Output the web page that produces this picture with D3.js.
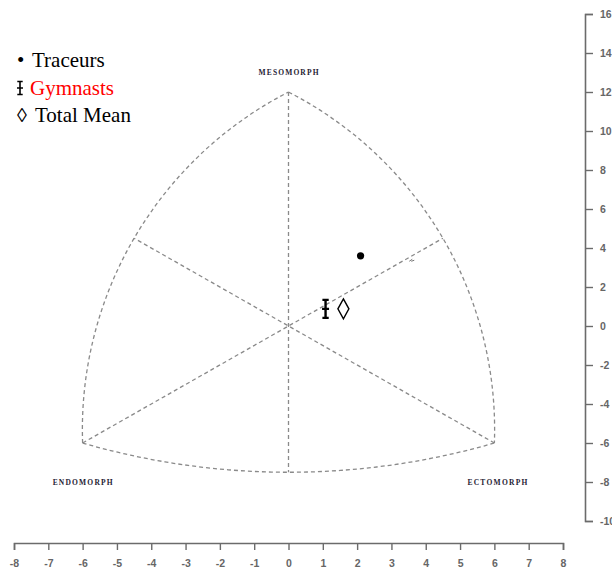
<!DOCTYPE html>
<html><head><meta charset="utf-8">
<script src="https://cdn.jsdelivr.net/npm/d3@7"></script>
<style>html,body{margin:0;padding:0;background:#fff;}svg{display:block;}</style>
</head><body>
<svg id="c" width="612" height="572"></svg>
<script>
// ---- data ----
const xTickValues = [-8,-7,-6,-5,-4,-3,-2,-1,0,1,2,3,4,5,6,7,8];
const yTickValues = [16,14,12,10,8,6,4,2,0,-2,-4,-6,-8,-10];
const vertexNames = ["MESOMORPH","ENDOMORPH","ECTOMORPH"];
const vertexX = [0,-6,6];
const vertexY = [12,-6,-6];
// arcs: pass-through points
const arcMidX = [-4.5, 4.5, 0];
const arcMidY = [4.5, 4.5, -7.5];
const axesLines = [[[0,12],[0,-7.5]], [[-6,-6],[4.5,4.5]], [[6,-6],[-4.5,4.5]]];
const groupNames = ["Traceurs","Gymnasts","Total Mean"];
const groupX = [2.1, 1.08, 1.6];
const groupY = [3.6, 0.88, 0.88];

// ---- scales ----
const x = d3.scaleLinear().domain([-8,8]).range([14,563]);
const y = d3.scaleLinear().domain([-10,16]).range([521,14]);
const svg = d3.select("#c");

// ---- axes ----
const axisColor = "#6b6b6b";
const fmt = d => String(d);
const gx = svg.append("g").attr("transform","translate(0,543)")
  .call(d3.axisBottom(x).tickValues(xTickValues).tickSize(7).tickPadding(13).tickFormat(fmt));
const gy = svg.append("g").attr("transform","translate(585,0)")
  .call(d3.axisRight(y).tickValues(yTickValues).tickSize(8).tickPadding(7).tickFormat(fmt));
[gx,gy].forEach(g=>{
  g.select(".domain").attr("stroke",axisColor).attr("stroke-width",1.6);
  g.selectAll(".tick line").attr("stroke",axisColor).attr("stroke-width",1.4);
  g.selectAll(".tick text").attr("fill","#666").attr("font-family","Liberation Sans, Arial, sans-serif")
   .attr("font-size",10.5).attr("font-weight","bold");
});
gx.selectAll(".tick text").attr("dy","0.35em");

// ---- somatochart outline ----
const dashStyle = g => g.attr("fill","none").attr("stroke","#8a8a8a").attr("stroke-width",1.3).attr("stroke-dasharray","4,3");
function circle3(p1,p2,p3){
  const [ax,ay]=p1,[bx,by]=p2,[cx,cy]=p3;
  const d=2*(ax*(by-cy)+bx*(cy-ay)+cx*(ay-by));
  const ux=((ax*ax+ay*ay)*(by-cy)+(bx*bx+by*by)*(cy-ay)+(cx*cx+cy*cy)*(ay-by))/d;
  const uy=((ax*ax+ay*ay)*(cx-bx)+(bx*bx+by*by)*(ax-cx)+(cx*cx+cy*cy)*(bx-ax))/d;
  return {cx:ux,cy:uy,r:Math.hypot(ax-ux,ay-uy)};
}
const P = (dx,dy)=>[x(dx),y(dy)];
const arcEnds = [[1,0],[0,2],[1,2]];
arcEnds.forEach((e,i)=>{
  const a=P(vertexX[e[0]],vertexY[e[0]]), b=P(vertexX[e[1]],vertexY[e[1]]), m=P(arcMidX[i],arcMidY[i]);
  const c=circle3(a,m,b);
  const cross=(m[0]-a[0])*(b[1]-a[1])-(m[1]-a[1])*(b[0]-a[0]);
  const sweep = cross<0?0:1;
  svg.append("path").attr("d",`M${a[0]},${a[1]} A${c.r},${c.r} 0 0 ${sweep} ${b[0]},${b[1]}`).call(dashStyle);
});
axesLines.forEach(l=>{
  svg.append("line").attr("x1",x(l[0][0])).attr("y1",y(l[0][1])).attr("x2",x(l[1][0])).attr("y2",y(l[1][1])).call(dashStyle);
});

// vertex labels
const labelOffsets = [[0,-17],[0,42],[3,42]];
vertexNames.forEach((n,i)=>{
  svg.append("text").attr("x",x(vertexX[i])+labelOffsets[i][0]).attr("y",y(vertexY[i])+labelOffsets[i][1])
    .attr("text-anchor","middle").attr("font-family","Liberation Serif, Times New Roman, serif")
    .attr("font-weight","bold").attr("font-size",7.5).attr("fill","#1f2233")
    .attr("textLength",60).attr("lengthAdjust","spacing").text(n);
});

// small mark on the line
svg.append("path").attr("d",`M${x(3.52)},${y(3.32)} l3,-2 m-1,2 l3,-1`).attr("stroke","#777").attr("stroke-width",1).attr("fill","none");

// ---- group markers ----
function gymGlyph(g,cx,cy,h,w,sw){
  const p=d3.path();
  p.moveTo(cx,cy-h/2); p.lineTo(cx,cy+h/2);
  p.moveTo(cx-w*0.45,cy-h/2); p.lineTo(cx+w*0.45,cy-h/2);
  p.moveTo(cx-w*0.45,cy+h/2); p.lineTo(cx+w*0.45,cy+h/2);
  p.moveTo(cx-w/2,cy); p.lineTo(cx+w/2,cy);
  g.append("path").attr("d",p.toString()).attr("stroke","#000").attr("stroke-width",sw).attr("fill","none");
}
svg.append("circle").attr("cx",x(groupX[0])).attr("cy",y(groupY[0])).attr("r",3.6).attr("fill","#000");
gymGlyph(svg,x(groupX[1]),y(groupY[1]),18,7,2.4);
{
  const cx=x(groupX[2]), cy=y(groupY[2]);
  svg.append("path").attr("d",`M${cx},${cy-10} L${cx+5.5},${cy} L${cx},${cy+10} L${cx-5.5},${cy} Z`)
    .attr("fill","#fff").attr("stroke","#000").attr("stroke-width",1.4);
}

// ---- legend ----
const lg = svg.append("g").attr("font-family","Liberation Serif, Times New Roman, serif").attr("font-size",21);
const legendY = [67,95,122];
const legendColors = ["#000","#ff0000","#000"];
const legendX = [32,30,35];
svg.append("defs").append("clipPath").attr("id","lgclip").append("rect").attr("x",0).attr("y",0).attr("width",114).attr("height",200);
groupNames.forEach((n,i)=>{
  lg.append("text").attr("x",legendX[i]).attr("y",legendY[i]).attr("fill",legendColors[i])
    .attr("clip-path", i===1?"url(#lgclip)":null).text(n);
});
lg.append("text").attr("x",17).attr("y",legendY[0]).text("•");
gymGlyph(lg,20,legendY[1]-7,13,6,1.6);
lg.append("text").attr("x",17).attr("y",legendY[2]).attr("font-size",20).text("◊");
</script>
</body></html>
